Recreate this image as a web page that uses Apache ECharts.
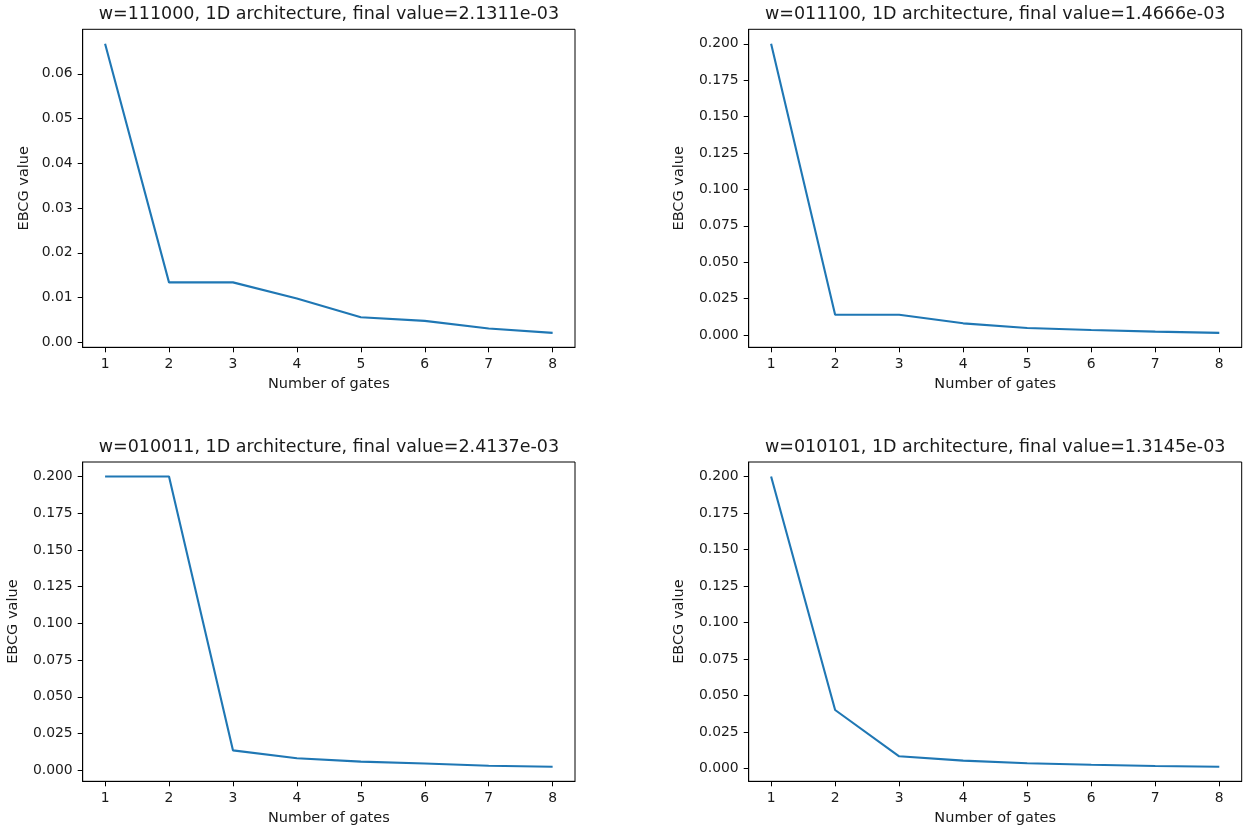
<!DOCTYPE html>
<html>
<head>
<meta charset="utf-8">
<script src="https://cdn.jsdelivr.net/npm/echarts@6/dist/echarts.min.js"></script>
<style>
html,body{margin:0;padding:0;background:#fff;}
#chart{width:1247px;height:828px;}
</style>
</head>
<body>
<div id="chart"></div>
<script>
// ---- data ----
const gates = [1, 2, 3, 4, 5, 6, 7, 8];
const xTicks = [1, 2, 3, 4, 5, 6, 7, 8];

const titles = [
  'w=111000, 1D architecture, final value=2.1311e-03',
  'w=011100, 1D architecture, final value=1.4666e-03',
  'w=010011, 1D architecture, final value=2.4137e-03',
  'w=010101, 1D architecture, final value=1.3145e-03'
];

const ebcg111000 = [0.0667, 0.0134, 0.0134, 0.0098, 0.0056, 0.0048, 0.0031, 0.0021311];
const ebcg011100 = [0.2000, 0.0139, 0.0139, 0.0080, 0.0048, 0.0034, 0.0023, 0.0014666];
const ebcg010011 = [0.2000, 0.2000, 0.0136, 0.0082, 0.0059, 0.0047, 0.0031, 0.0024137];
const ebcg010101 = [0.2000, 0.0402, 0.0085, 0.0055, 0.0037, 0.0027, 0.0019, 0.0013145];

const yTicksSmall = [0, 0.01, 0.02, 0.03, 0.04, 0.05, 0.06];
const yTicksLarge = [0, 0.025, 0.05, 0.075, 0.1, 0.125, 0.15, 0.175, 0.2];

const xLabel = 'Number of gates';
const yLabel = 'EBCG value';

// ---- layout ----
const FONT = 'DejaVu Sans';
const TXT = '#1a1a1a';
const grids = [
  {left: 82.7, top: 29.3, width: 492.3, height: 318},
  {left: 748.7, top: 29.3, width: 493, height: 318},
  {left: 82.7, top: 462, width: 492.3, height: 319.3},
  {left: 748.7, top: 462, width: 493, height: 319.3}
];
const seriesData = [ebcg111000, ebcg011100, ebcg010011, ebcg010101];
const yTicksList = [yTicksSmall, yTicksLarge, yTicksLarge, yTicksLarge];
const decimals = [2, 3, 3, 3];
const nameGaps = [51, 62, 62, 62];

function mplRange(arr) {
  const lo = Math.min(...arr), hi = Math.max(...arr);
  const m = (hi - lo) * 0.05;
  return [lo - m, hi + m];
}

const option = {
  animation: false,
  backgroundColor: '#fff',
  title: [], grid: [], xAxis: [], yAxis: [], series: []
};

for (let i = 0; i < 4; i++) {
  const g = grids[i];
  const yr = mplRange(seriesData[i]);
  option.title.push({
    text: titles[i],
    left: g.left + g.width / 2,
    top: g.top - 24,
    textAlign: 'center',
    padding: 0,
    textStyle: {fontFamily: FONT, fontSize: 17.5, fontWeight: 'normal', color: TXT}
  });
  option.grid.push({
    left: g.left, top: g.top, width: g.width, height: g.height,
    show: true, borderColor: '#000', borderWidth: 1, backgroundColor: 'transparent',
    containLabel: false
  });
  option.xAxis.push({
    type: 'value', gridIndex: i, min: 0.65, max: 8.35,
    name: xLabel, nameLocation: 'middle', nameGap: 29,
    nameTextStyle: {fontFamily: FONT, fontSize: 14.5, color: TXT},
    axisLine: {show: true, onZero: false, lineStyle: {color: '#000', width: 1}},
    axisTick: {show: true, inside: false, length: 5, customValues: xTicks, lineStyle: {color: '#000', width: 1}},
    axisLabel: {show: true, margin: 10, customValues: xTicks, fontFamily: FONT, fontSize: 13.9, color: TXT,
      formatter: v => String(Math.round(v))},
    splitLine: {show: false}
  });
  const d = decimals[i];
  option.yAxis.push({
    type: 'value', gridIndex: i, min: yr[0], max: yr[1],
    name: yLabel, nameLocation: 'middle', nameGap: nameGaps[i], nameRotate: 90,
    nameTextStyle: {fontFamily: FONT, fontSize: 14.5, color: TXT},
    axisLine: {show: true, onZero: false, lineStyle: {color: '#000', width: 1}},
    axisTick: {show: true, inside: false, length: 5, customValues: yTicksList[i], lineStyle: {color: '#000', width: 1}},
    axisLabel: {show: true, margin: 10, customValues: yTicksList[i], fontFamily: FONT, fontSize: 13.9, color: TXT,
      formatter: v => Number(v).toFixed(d)},
    splitLine: {show: false}
  });
  option.series.push({
    type: 'line', xAxisIndex: i, yAxisIndex: i,
    data: gates.map((x, k) => [x, seriesData[i][k]]),
    showSymbol: false, symbol: 'none',
    lineStyle: {color: '#1f77b4', width: 2.1},
    clip: false
  });
}

const chart = echarts.init(document.getElementById('chart'), null, {renderer: 'canvas'});
chart.setOption(option);
</script>
</body>
</html>
